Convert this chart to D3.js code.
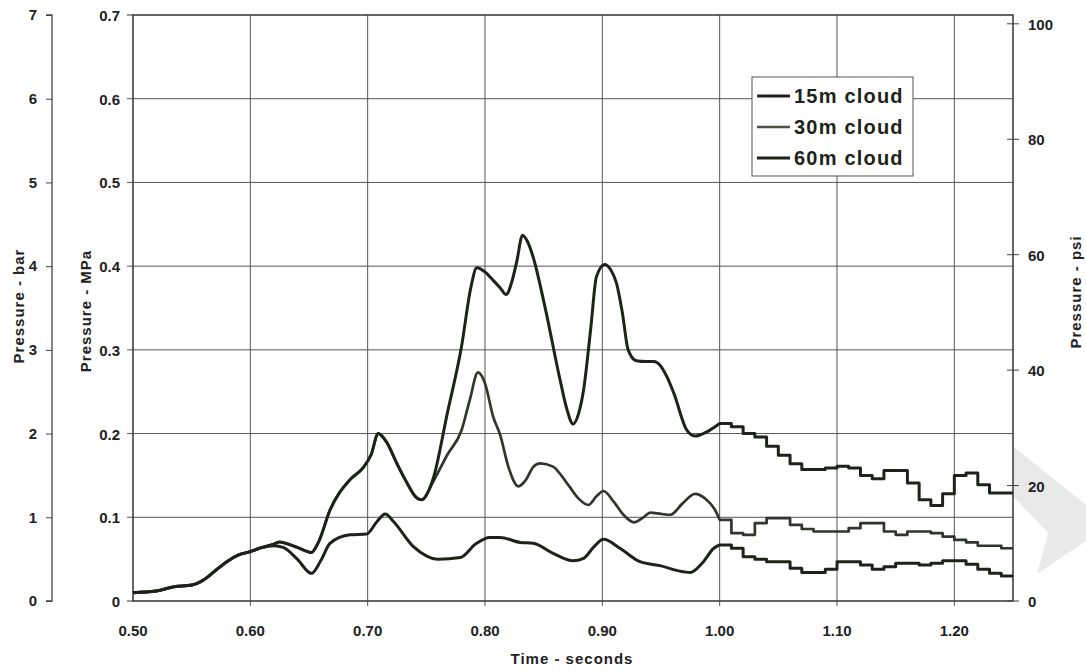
<!DOCTYPE html>
<head>
  <meta charset="utf-8">
  <script src="https://d3js.org/d3.v7.min.js"></script>
  <style>
    body { margin: 0; background: #fff; }
    svg { display: block; font-family: "Liberation Sans", Arial, sans-serif; font-weight: bold; }
  </style>
</head>
<body>
  <svg width="1086" height="672"></svg>
  <script>
    // layout
    var width = 1086, height = 672;
    var plot = {left: 133, right: 1013, top: 15, bottom: 601};
    var barAxisX = 52;
    var ink = "#1c2419";

    // data: smooth part (time, MPa) per series
    var series60Time = [0.50, 0.52, 0.535, 0.55, 0.56, 0.57, 0.58, 0.59, 0.60, 0.61, 0.62, 0.625, 0.63, 0.64, 0.652, 0.658,
      0.668, 0.685, 0.696, 0.703, 0.709, 0.716, 0.725, 0.732, 0.742, 0.746, 0.756, 0.768, 0.78, 0.788, 0.793, 0.80, 0.807,
      0.813, 0.818, 0.823, 0.827, 0.832, 0.836, 0.841, 0.851, 0.864, 0.870, 0.875, 0.880, 0.884, 0.890, 0.895, 0.902,
      0.907, 0.912, 0.917, 0.922, 0.929, 0.937, 0.944, 0.949, 0.955, 0.961, 0.972, 0.979, 0.989, 1.00];
    var series60Value = [0.010, 0.012, 0.017, 0.019, 0.025, 0.036, 0.047, 0.055, 0.059, 0.064, 0.068, 0.0705, 0.069, 0.064, 0.058, 0.070,
      0.109, 0.145, 0.159, 0.175, 0.200, 0.190, 0.164, 0.145, 0.123, 0.121, 0.147, 0.225, 0.304, 0.375, 0.398, 0.393, 0.383,
      0.374, 0.366, 0.382, 0.405, 0.437, 0.430, 0.411, 0.352, 0.264, 0.228, 0.2115, 0.225, 0.252, 0.324, 0.3875, 0.402,
      0.396, 0.380, 0.345, 0.300, 0.287, 0.286, 0.286, 0.282, 0.268, 0.248, 0.204, 0.197, 0.202, 0.212];

    var series30Time = [0.50, 0.52, 0.535, 0.55, 0.56, 0.57, 0.58, 0.59, 0.60, 0.61, 0.62, 0.625, 0.63, 0.64, 0.652, 0.658,
      0.668, 0.685, 0.696, 0.703, 0.709, 0.716, 0.725, 0.732, 0.742, 0.746, 0.756, 0.768, 0.78, 0.787, 0.794, 0.80, 0.807,
      0.813, 0.82, 0.8285, 0.835, 0.841, 0.847, 0.858, 0.865, 0.872, 0.88, 0.888, 0.895, 0.901, 0.91, 0.918, 0.927, 0.935,
      0.941, 0.95, 0.958, 0.968, 0.979, 0.988, 0.996, 1.00];
    var series30Value = [0.010, 0.012, 0.017, 0.019, 0.025, 0.036, 0.047, 0.055, 0.059, 0.064, 0.068, 0.0705, 0.069, 0.064, 0.058, 0.070,
      0.109, 0.145, 0.159, 0.175, 0.200, 0.190, 0.164, 0.145, 0.123, 0.121, 0.143, 0.175, 0.204, 0.240, 0.273, 0.260, 0.220,
      0.198, 0.160, 0.137, 0.145, 0.160, 0.1645, 0.1605, 0.150, 0.1366, 0.122, 0.1147, 0.125, 0.1314, 0.118, 0.103, 0.094, 0.100,
      0.1055, 0.104, 0.103, 0.116, 0.128, 0.122, 0.109, 0.097];

    var series15Time = [0.50, 0.52, 0.535, 0.55, 0.56, 0.57, 0.58, 0.59, 0.60, 0.61, 0.62, 0.628, 0.64, 0.652, 0.66, 0.668,
      0.685, 0.699, 0.708, 0.715, 0.722, 0.739, 0.75, 0.76, 0.779, 0.792, 0.804, 0.813, 0.83, 0.841, 0.858, 0.875, 0.884,
      0.893, 0.901, 0.915, 0.932, 0.95, 0.965, 0.975, 0.985, 0.995, 1.00];
    var series15Value = [0.010, 0.012, 0.017, 0.019, 0.025, 0.036, 0.047, 0.055, 0.059, 0.064, 0.066, 0.064, 0.050, 0.033, 0.048, 0.069,
      0.079, 0.080, 0.095, 0.104, 0.095, 0.065, 0.054, 0.050, 0.052, 0.068, 0.076, 0.076, 0.070, 0.069, 0.057, 0.048, 0.051,
      0.065, 0.0737, 0.063, 0.047, 0.042, 0.036, 0.034, 0.045, 0.063, 0.067];

    // data: stepped part, one value per 0.01 s from 1.00 to 1.25
    var stepTime = [1.00, 1.01, 1.02, 1.03, 1.04, 1.05, 1.06, 1.07, 1.08, 1.09, 1.10, 1.11, 1.12, 1.13,
      1.14, 1.15, 1.16, 1.17, 1.18, 1.19, 1.20, 1.21, 1.22, 1.23, 1.24, 1.25];
    var step60Value = [0.212, 0.208, 0.200, 0.196, 0.185, 0.174, 0.164, 0.157, 0.157, 0.159, 0.161, 0.159, 0.150, 0.146,
      0.156, 0.156, 0.141, 0.121, 0.114, 0.128, 0.150, 0.153, 0.139, 0.129, 0.129, 0.129];
    var step30Value = [0.097, 0.081, 0.079, 0.093, 0.099, 0.099, 0.091, 0.086, 0.083, 0.083, 0.083, 0.087, 0.093, 0.093,
      0.083, 0.079, 0.083, 0.083, 0.081, 0.077, 0.073, 0.070, 0.066, 0.066, 0.063, 0.063];
    var step15Value = [0.067, 0.063, 0.053, 0.050, 0.047, 0.047, 0.039, 0.034, 0.034, 0.038, 0.047, 0.047, 0.043, 0.038,
      0.041, 0.045, 0.045, 0.043, 0.045, 0.048, 0.048, 0.044, 0.038, 0.033, 0.030, 0.030];

    // ticks and labels
    var xTicks = [0.50, 0.60, 0.70, 0.80, 0.90, 1.00, 1.10, 1.20];
    var mpaTicks = [0, 0.1, 0.2, 0.3, 0.4, 0.5, 0.6, 0.7];
    var barTicks = [0, 1, 2, 3, 4, 5, 6, 7];
    var psiTicks = [0, 20, 40, 60, 80, 100];
    var legendLabels = ["15m cloud", "30m cloud", "60m cloud"];

    // scales
    var x = d3.scaleLinear().domain([0.5, 1.25]).range([plot.left, plot.right]);
    var y = d3.scaleLinear().domain([0, 0.7]).range([plot.bottom, plot.top]);
    var yBar = d3.scaleLinear().domain([0, 7]).range([plot.bottom, plot.top]);
    var yPsi = d3.scaleLinear().domain([0, 0.7 * 145.038]).range([plot.bottom, plot.top]);

    var svg = d3.select("svg");
    svg.append("rect").attr("width", width).attr("height", height).attr("fill", "#fff");

    // watermark chevron
    svg.append("path")
      .attr("d", "M1014,447 L1086,505 L1086,541 L1037,574 L1048,533 L1014,497 Z")
      .attr("fill", "#e8eae8");

    // grid
    var grid = svg.append("g").attr("stroke", "#555").attr("stroke-width", 1);
    grid.selectAll(".gx").data(xTicks.slice(1)).enter().append("line")
      .attr("x1", function(d){ return x(d); }).attr("x2", function(d){ return x(d); })
      .attr("y1", plot.top).attr("y2", plot.bottom + 5);
    grid.selectAll(".gy").data(mpaTicks.slice(1, -1)).enter().append("line")
      .attr("x1", plot.left - 6).attr("x2", plot.right)
      .attr("y1", function(d){ return y(d); }).attr("y2", function(d){ return y(d); });

    // frame
    svg.append("rect")
      .attr("x", plot.left).attr("y", plot.top)
      .attr("width", plot.right - plot.left).attr("height", plot.bottom - plot.top)
      .attr("fill", "none").attr("stroke", "#333").attr("stroke-width", 1.5);

    // lines
    var smooth = d3.line().x(function(d){ return x(d[0]); }).y(function(d){ return y(d[1]); }).curve(d3.curveMonotoneX);
    var stepped = d3.line().x(function(d){ return x(d[0]); }).y(function(d){ return y(d[1]); }).curve(d3.curveStepAfter);

    var lines = [
      {t: series15Time, v: series15Value, s: step15Value, w: 3, c: ink},
      {t: series30Time, v: series30Value, s: step30Value, w: 2.7, c: "#2f372c"},
      {t: series60Time, v: series60Value, s: step60Value, w: 3, c: ink}
    ];
    lines.forEach(function(l){
      var pts = l.t.map(function(t, i){ return [t, l.v[i]]; });
      var steps = stepTime.map(function(t, i){ return [t, l.s[i]]; });
      svg.append("path").attr("d", smooth(pts) + stepped(steps).replace(/^M/, "L"))
        .attr("fill", "none").attr("stroke", l.c).attr("stroke-width", l.w)
        .attr("stroke-linejoin", "round");
    });

    // x axis labels
    svg.append("g").selectAll("text").data(xTicks).enter().append("text")
      .attr("x", function(d){ return x(d); }).attr("y", 636)
      .attr("text-anchor", "middle").attr("font-size", 15).attr("fill", "#222")
      .text(function(d){ return d3.format(".2f")(d); });

    // MPa axis
    var mpa = svg.append("g");
    mpa.selectAll("line").data([0, 0.7]).enter().append("line")
      .attr("x1", plot.left - 6).attr("x2", plot.left)
      .attr("y1", function(d){ return y(d); }).attr("y2", function(d){ return y(d); })
      .attr("stroke", "#333");
    mpa.selectAll("text").data(mpaTicks).enter().append("text")
      .attr("x", 120).attr("y", function(d){ return y(d) + 6; })
      .attr("text-anchor", "end").attr("font-size", 15).attr("fill", "#222")
      .text(function(d){ return d === 0 ? "0" : d3.format(".1f")(d); });

    // bar axis
    var barAxis = d3.axisLeft(yBar).tickValues(barTicks).tickSize(6).tickPadding(9).tickFormat(d3.format("d"));
    var gb = svg.append("g").attr("transform", "translate(" + barAxisX + ",0)").call(barAxis);
    gb.select(".domain").attr("stroke", "#444").attr("stroke-width", 1.3).attr("d", "M-6," + plot.top + "H0V" + plot.bottom + "H-6");
    gb.selectAll(".tick line").attr("stroke", "#444");
    gb.selectAll("text").attr("font-size", 15).attr("font-family", "Liberation Sans, Arial, sans-serif")
      .attr("font-weight", "bold").attr("fill", "#222");

    // psi axis
    var psi = svg.append("g");
    psi.selectAll("line").data(psiTicks).enter().append("line")
      .attr("x1", plot.right - 6).attr("x2", plot.right + 6)
      .attr("y1", function(d){ return yPsi(d); }).attr("y2", function(d){ return yPsi(d); })
      .attr("stroke", "#444");
    psi.selectAll("text").data(psiTicks).enter().append("text")
      .attr("x", 1028).attr("y", function(d){ return yPsi(d) + 6; })
      .attr("font-size", 15).attr("fill", "#222")
      .text(function(d){ return d; });

    // axis titles
    var titleStyle = function(sel){
      return sel.attr("text-anchor", "middle").attr("font-size", 15).attr("letter-spacing", 1).attr("fill", "#222");
    };
    titleStyle(svg.append("text").attr("transform", "translate(24,306) rotate(-90)")).text("Pressure - bar");
    titleStyle(svg.append("text").attr("transform", "translate(91,311) rotate(-90)")).text("Pressure - MPa");
    titleStyle(svg.append("text").attr("transform", "translate(1081,292) rotate(-90)")).text("Pressure - psi");
    titleStyle(svg.append("text").attr("x", 572).attr("y", 664)).text("Time - seconds");

    // legend
    var lg = svg.append("g");
    lg.append("rect").attr("x", 752).attr("y", 77).attr("width", 161).attr("height", 99)
      .attr("fill", "#fff").attr("stroke", "#555").attr("stroke-width", 1);
    legendLabels.forEach(function(lab, i){
      var ly = 96 + i * 31;
      lg.append("line").attr("x1", 757).attr("x2", 790).attr("y1", ly).attr("y2", ly)
        .attr("stroke", i === 1 ? "#4a5247" : ink).attr("stroke-width", i === 1 ? 2.4 : 3);
      lg.append("text").attr("x", 794).attr("y", ly + 7).attr("font-size", 20).attr("letter-spacing", 1.2)
        .attr("fill", "#1c2419").text(lab);
    });
  </script>
</body>
</html>
